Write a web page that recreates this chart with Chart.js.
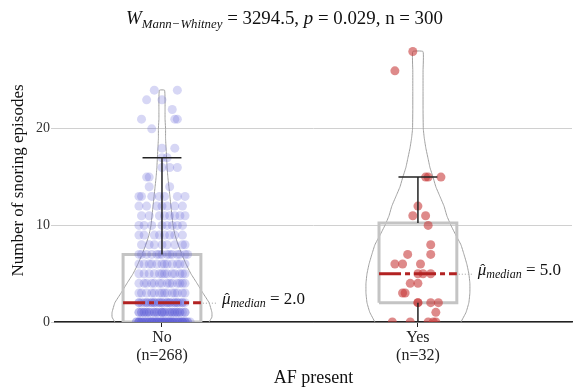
<!DOCTYPE html>
<html><head><meta charset="utf-8">
<script src="https://cdn.jsdelivr.net/npm/chart.js@4.4.1/dist/chart.umd.min.js"></script>
<style>html,body{margin:0;padding:0;background:#fff}#wrap{width:579px;height:388px}</style>
</head><body><div id="wrap"><canvas id="c" width="579" height="388"></canvas></div>
<script>
// ---------------- data ----------------
const categories = ['No', 'Yes'];
const groupCounts = [268, 32];
const xAxisTitle = 'AF present';
const yAxisTitle = 'Number of snoring episodes';
const yTickValues = [0, 10, 20];
const statW = '3294.5';
const statP = '0.029';
const statN = '300';

// box stats: [q1, median, q3, lower whisker, upper whisker]
const noBox = [0, 2, 7, 0, 17];
const yesBox = [2, 5, 10.25, 0, 15];
const medianText = ['2.0', '5.0'];

// "No" observations: value levels and horizontal jitter (hundredths of a category step) for each point at that level
const noLevels = [0,1,2,3,4,5,6,7,8,9,10,11,12,13,14,15,16,17,18,20,21,22,23,24];
const noJitter = [
  [-9,-6,-2,1,4,8,-8,-4,0,3,7,10,-10,-5,-1,2,6,9,-7,-3,1,5,-9,-6,-2,3,8,-8,-4,0,4,7,-10,-5,-1,2,6,9,-7,-3,0,5,-9,-6,-2,1,4,8,-8,-4,3,7,10,-5,-1,2,6,9,-7,-3,1,5,-9,-2,4,8,-4,0,3,11],
  [-9,-8,-6,-5,-3,-2,0,1,3,4,6,7,9,-7,-4,-1,2,5,8,-9,-6,-3,0,3,6,9,-8,-5,-2,1,4,7,-7,0,5],
  [-9,-7,-6,-4,-3,-1,0,2,3,5,6,8,9,-8,-5,-2,1,4,7,-6,-3,0,3,6,-9,-1,2,5,8,-4],
  [-9,-3,-1,4,8,-6,1,6,-8,2,-4,9,0,5],
  [-7,-6,-3,2,6,8,-9,0,4,-1,9,-4,3,7],
  [-5,0,5,7,-9,2,-3,9,-7,4,1,-1,8],
  [-7,-4,2,6,7,-2,4,-9,0,9,-5,1],
  [-8,-4,-1,2,4,7,10,-6,3,-2,6,9,-9,0],
  [-8,-3,2,5,-5,8,0,9],
  [-7,-3,1,5,8,-1,-9,3],
  [-9,-4,0,4,8,-7,2,6],
  [-5,-1,3,5,9,-8,7,1],
  [-9,-2,2,-6,5,8,0],
  [-9,-8,-4,6,9,1,-1],
  [-5,3],
  [-6,-5],
  [0,3,6],
  [0,2],
  [0,5],
  [-4],
  [-8,5,6],
  [4],
  [-6,0],
  [-3,6]
];

// "Yes" observations (32)
const yesValues = [28,26,15,15,15,12,11,11,10,8,7,7,6,6,6,5,5,5,4,4,3,3,2,2,2,2,1,0,0,0,0,0];
const yesJitter = [-2,-9,3,4,9,0,-2,3,4,5,-4,5,-9,-6,1,0,5,2,-3,0,-6,-5,0,5,8,0,7,-10,4,7,-3,6];

// violin outlines: levels and half-widths (hundredths of a category step)
const noViolinLevels = [0,0.5,1,2,3,4,5,6,7,8,9,10,11,12,13,14,15,16,17,18,19,20,21,22,23,24];
const noViolinHalf   = [18.4,19.5,19.5,18.4,16,13.7,11.3,9.4,7.8,6.3,5.1,4.3,3.9,3.5,3.1,2.7,2.3,2,1.8,1.6,1.4,1.4,1.2,1.2,1.2,1];
const yesViolinLevels = [0,1,2,3,4,5,6,7,8,9,10,11,12,13,14,15,16,17,18,19,20,22,24,26,28];
const yesViolinHalf   = [16.8,18.8,19.9,20.3,20.3,19.9,19.1,18,16.8,14.8,12.9,11.3,10.2,8.6,7,5.9,4.7,3.9,3.1,2.5,2.1,2,2,2,2];

// ---------------- styling / layout ----------------
const SERIF = '"Liberation Serif", "Times New Roman", serif';
const BOX_HALF = 0.152;
const CAP_HALF = 0.076;
const NO_COLOR = 'rgba(95,95,215,0.25)';
const YES_COLOR = 'rgba(200,60,60,0.6)';
const MEDIAN_COLOR = '#b22222';

const noPts = [];
noLevels.forEach((lv, i) => noJitter[i].forEach(j => noPts.push({x: 1 + j / 100, y: lv})));
const yesPts = yesValues.map((v, i) => ({x: 2 + yesJitter[i] / 100, y: v}));

function violin(center, levels, half) {
  const left = levels.map((v, i) => ({x: center - half[i] / 100, y: v}));
  const right = levels.map((v, i) => ({x: center + half[i] / 100, y: v})).reverse();
  return left.concat(right);
}
function boxRect(c, b) {
  return [{x:c-BOX_HALF,y:b[0]},{x:c-BOX_HALF,y:b[2]},{x:c+BOX_HALF,y:b[2]},{x:c+BOX_HALF,y:b[0]},{x:c-BOX_HALF,y:b[0]}];
}
function lineDs(data, color, width, order, extra) {
  return Object.assign({type:'line', data, borderColor:color, borderWidth:width, pointRadius:0, fill:false, tension:0, order, clip:0}, extra || {});
}

const datasets = [
  lineDs(violin(1, noViolinLevels, noViolinHalf), '#a0a0a0', 1, 9, {tension:0.12}),
  lineDs(violin(2, yesViolinLevels, yesViolinHalf), '#a0a0a0', 1, 9, {tension:0.12}),
  lineDs(boxRect(1, noBox), '#c4c4c4', 3, 8),
  lineDs(boxRect(2, yesBox), '#c4c4c4', 3, 8),
  {type:'scatter', data:noPts, backgroundColor:NO_COLOR, borderWidth:0, pointRadius:4.5, order:5, clip:0},
  {type:'scatter', data:yesPts, backgroundColor:YES_COLOR, borderWidth:0, pointRadius:4.5, order:5, clip:0},
  lineDs([{x:1,y:noBox[2]},{x:1,y:noBox[4]}], '#222', 1.5, 3),
  lineDs([{x:1-CAP_HALF,y:noBox[4]},{x:1+CAP_HALF,y:noBox[4]}], '#222', 1.5, 3),
  lineDs([{x:2,y:yesBox[2]},{x:2,y:yesBox[4]}], '#222', 1.5, 3),
  lineDs([{x:2-CAP_HALF,y:yesBox[4]},{x:2+CAP_HALF,y:yesBox[4]}], '#222', 1.5, 3),
  lineDs([{x:2,y:yesBox[0]},{x:2,y:yesBox[3]}], '#222', 1.5, 3),
  lineDs([{x:1-BOX_HALF,y:noBox[1]},{x:1+BOX_HALF,y:noBox[1]}], MEDIAN_COLOR, 3, 1, {borderDash:[22,4,5,4]}),
  lineDs([{x:2-BOX_HALF,y:yesBox[1]},{x:2+BOX_HALF,y:yesBox[1]}], MEDIAN_COLOR, 3, 1, {borderDash:[22,4,5,4]})
];

function drawRich(ctx, parts, x, y, doDraw) {
  let cx = x;
  for (const p of parts) {
    ctx.font = (p.it ? 'italic ' : '') + p.size + 'px ' + SERIF;
    if (doDraw) ctx.fillText(p.t, cx, y + (p.dy || 0));
    cx += ctx.measureText(p.t).width;
  }
  return cx - x;
}

const annotate = {
  id: 'annotate',
  afterDraw(chart) {
    const ctx = chart.ctx;
    const xs = chart.scales.x, ys = chart.scales.y;
    ctx.save();
    ctx.fillStyle = '#111';
    ctx.textBaseline = 'alphabetic';
    ctx.textAlign = 'left';
    // title
    let size = 18;
    const mk = s => [
      {t:'W', size:s, it:true},
      {t:'Mann\u2212Whitney', size:s*0.68, it:true, dy:s*0.22},
      {t:' = ' + statW + ', ', size:s},
      {t:'p', size:s, it:true},
      {t:' = ' + statP + ', n = ' + statN, size:s}
    ];
    const w0 = drawRich(ctx, mk(size), 0, 0, false);
    size = size * 317 / w0;
    if (size > 19) size = 19;
    const w = drawRich(ctx, mk(size), 0, 0, false);
    drawRich(ctx, mk(size), 284.5 - w / 2, 24, true);

    // median labels
    [[1, noBox[1], medianText[0]], [2, yesBox[1], medianText[1]]].forEach(([c, m, txt]) => {
      const bx = xs.getPixelForValue(c + BOX_HALF);
      const py = ys.getPixelForValue(m);
      ctx.save();
      ctx.strokeStyle = '#a0a0a0';
      ctx.lineWidth = 1;
      ctx.setLineDash([1, 2]);
      ctx.beginPath();
      ctx.moveTo(bx + 2, py + 0.5);
      ctx.lineTo(bx + 17, py + 0.5);
      ctx.stroke();
      ctx.restore();
      const sx = bx + 21, by = py + 1;
      const parts = [
        {t:'\u03bc', size:17, it:true},
        {t:'median', size:12, it:true, dy:3},
        {t:' = ' + txt, size:17}
      ];
      drawRich(ctx, parts, sx, by, true);
      ctx.font = '15px ' + SERIF;
      ctx.fillText('\u02c6', sx + 2.5, by - 1);
    });
    ctx.restore();
  }
};

new Chart(document.getElementById('c'), {
  type: 'scatter',
  data: { datasets },
  options: {
    responsive: false,
    animation: false,
    events: [],
    layout: { padding: { top: 39, right: 7, left: 0, bottom: 0 } },
    plugins: { legend: { display: false }, tooltip: { enabled: false }, title: { display: false } },
    scales: {
      x: {
        type: 'linear', min: 0.582, max: 2.602,
        afterBuildTicks: s => { s.ticks = [{value:1},{value:2}]; },
        afterFit: s => { s.height = 66; },
        ticks: {
          font: { family: SERIF, size: 16, lineHeight: 1.1 }, color: '#222', padding: 2, maxRotation: 0,
          callback: v => { const i = Math.round(v) - 1; return [categories[i], '(n=' + groupCounts[i] + ')']; }
        },
        grid: { drawOnChartArea: false, drawTicks: true, tickLength: 5, color: '#222', lineWidth: 1 },
        border: { display: true, color: '#222', width: 1.5 },
        title: { display: true, text: xAxisTitle, font: { family: SERIF, size: 18, lineHeight: 1.1 }, color: '#111', padding: { top: 0, bottom: 0 } }
      },
      y: {
        type: 'linear', min: 0, max: 29.3,
        afterBuildTicks: s => { s.ticks = yTickValues.map(v => ({value: v})); },
        afterFit: s => { s.width = 55; },
        ticks: { font: { family: SERIF, size: 14 }, color: '#333', padding: 1 },
        grid: { color: '#d0d0d0', lineWidth: 1, tickLength: 4, drawTicks: true },
        border: { display: false },
        title: { display: true, text: yAxisTitle, font: { family: SERIF, size: 17, lineHeight: 1.2 }, color: '#111', padding: { top: 8, bottom: 0 } }
      }
    }
  },
  plugins: [annotate]
});
</script>
</body></html>
